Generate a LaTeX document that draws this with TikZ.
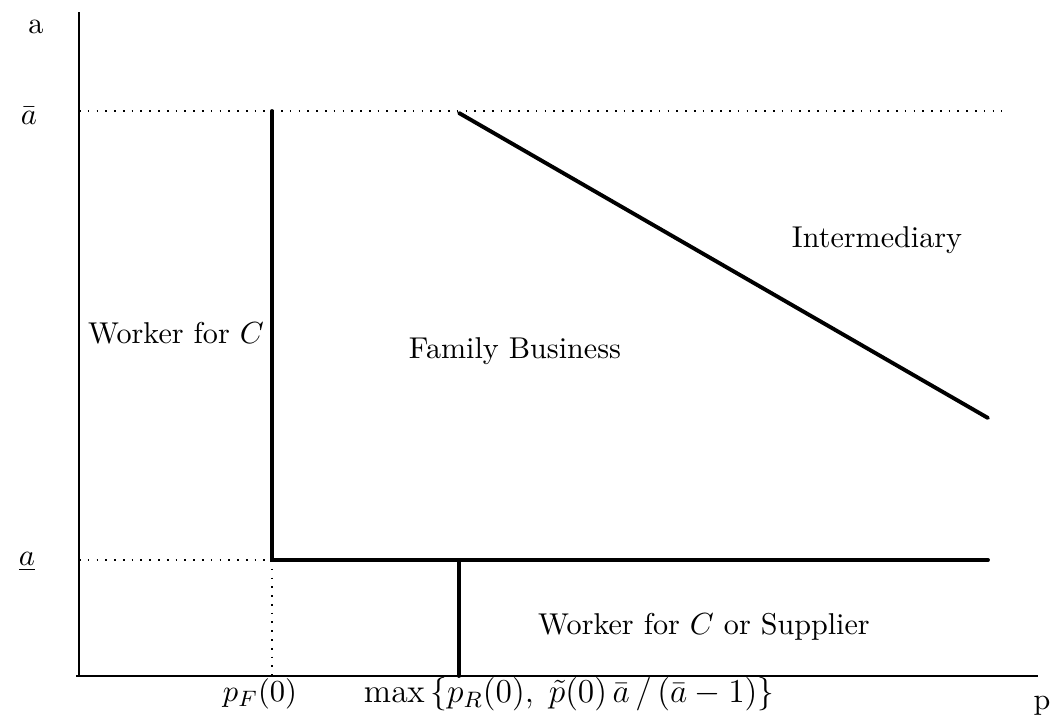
\documentclass[tikz,border=0pt]{standalone}
\usepackage{amsmath, amssymb}
\usepackage{tikz}
\usetikzlibrary{positioning,calc}

\tikzset{
  axis/.style={line width=0.6pt},
  bound/.style={line width=1.4pt, line cap=round},
  guide/.style={line width=0.6pt, dash pattern=on 0.6pt off 2.55pt},
  lbl/.style={font=\fontsize{10.8pt}{13pt}\selectfont},
  region/.style={lbl, inner sep=0pt}
}

\begin{document}
\begin{tikzpicture}[x=0.0126cm, y=-0.0126cm]
\useasboundingbox (0,0) rectangle (1055,722);

% Ejes
\coordinate (O) at (79,676);
\coordinate (ytop) at (79,12);
\coordinate (xleft) at (76,676);
\coordinate (xend) at (1038,676);
\draw[axis] (O) -- (ytop);
\draw[axis] (xleft) -- (xend);

% Puntos de las fronteras
\coordinate (abarL) at (79,111);
\coordinate (abarR) at (1002,111);
\coordinate (aloL) at (79,560);
\coordinate (pFtop) at (272,111);
\coordinate (pFlo) at (272,560);
\coordinate (pFbase) at (272,676);
\coordinate (pRlo) at (459,560);
\coordinate (pRbase) at (459,676);
\coordinate (right) at (988,560);
\coordinate (dstart) at (459,113);
\coordinate (dend) at (988,418);

% Lineas guia punteadas
\draw[guide] (abarL) -- (abarR);
\draw[guide] (aloL) -- (pFlo);
\draw[guide] (pFlo) -- (pFbase);

% Fronteras entre regiones
\draw[bound] (pFtop) -- (pFlo) -- (right);
\draw[bound] (pRlo) -- (pRbase);
\draw[bound] (dstart) -- (dend);

% Etiquetas de los ejes
\node[lbl] (alab) at (36,27) {a};
\node[lbl] (plab) at (1042,706) {p};
\node[lbl] (abar) at (29,116) {$\bar{a}$};
\node[lbl] (alow) at (27,562) {$\underline{a}$};
\node[lbl] (pF) at (260,694) {$p_F(0)$};
\node[font=\fontsize{12pt}{14pt}\selectfont] (pR) at (569,694)
  {$\max\,\{p_R(0),\;\tilde{p}(0)\,\bar{a}\,/\,(\bar{a}-1)\}$};

% Regiones
\node[region] (worker) at (176,333) {Worker for $C$};
\node[region] (family) at (515,351) {Family Business};
\node[region] (inter) at (877,240) {Intermediary};
\node[region] (supp) at (704,627) {Worker for $C$ or Supplier};

\end{tikzpicture}
\end{document}
